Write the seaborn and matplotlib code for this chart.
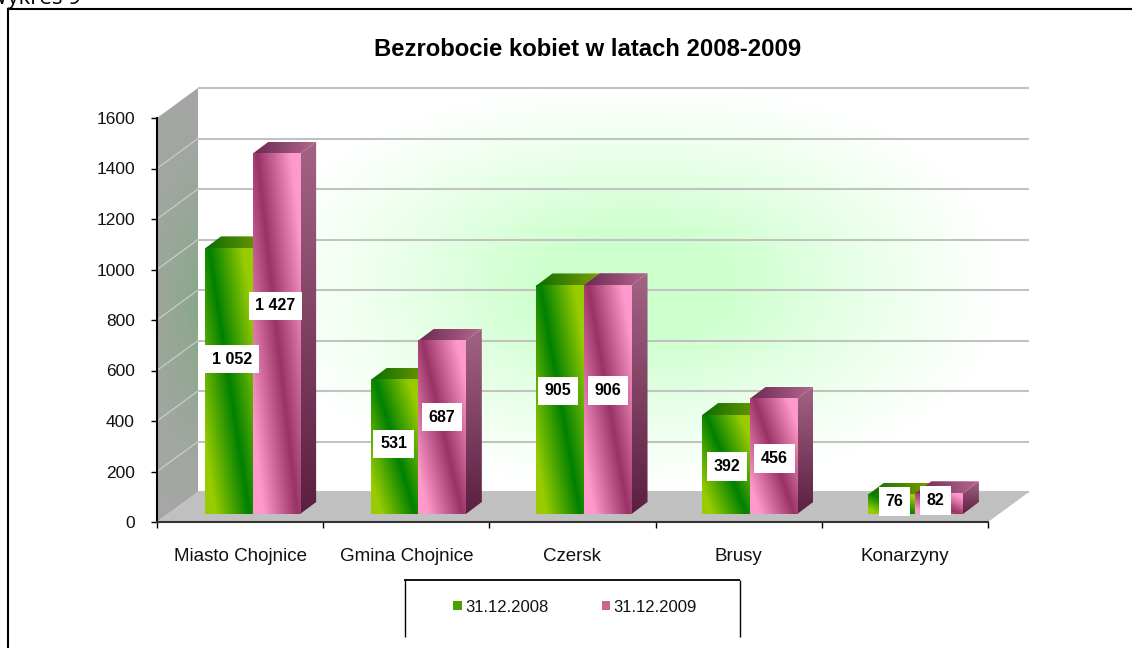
import numpy as np
import pandas as pd
import matplotlib
matplotlib.use("Agg")
import matplotlib.pyplot as plt
from matplotlib.colors import to_rgb
from matplotlib.lines import Line2D
from matplotlib.patches import Polygon, Patch
import seaborn as sns

title = "Bezrobocie kobiet w latach 2008-2009"
categories = ["Miasto Chojnice", "Gmina Chojnice", "Czersk", "Brusy", "Konarzyny"]
series_names = ["31.12.2008", "31.12.2009"]
values_2008 = [1052, 531, 905, 392, 76]
values_2009 = [1427, 687, 906, 456, 82]
y_ticks = [0, 200, 400, 600, 800, 1000, 1200, 1400, 1600]

W, H = 1132, 648
L, R, T, B = 157, 988, 118, 522
sns.set_theme(style="white")
plt.rcParams["font.family"] = ["Liberation Sans", "DejaVu Sans"]
fig = plt.figure(figsize=(W / 100, H / 100), dpi=100, facecolor="white")
ax = fig.add_axes([L / W, 1 - B / H, (R - L) / W, (B - T) / H])
ax.patch.set_alpha(0)

PX = 5.0 / (R - L)       # data x per pixel
PY = 1600.0 / (B - T)    # data y per pixel


def fx(x):
    return x / W


def fy(y):
    return 1 - y / H


df = pd.DataFrame({
    "kat": categories * 2,
    "war": values_2008 + values_2009,
    "data": [series_names[0]] * 5 + [series_names[1]] * 5,
})
GREEN = ("#008000", "#99CC00")
PINK = ("#993366", "#FF99CC")
sns.barplot(data=df, x="kat", y="war", hue="data", order=categories, hue_order=series_names,
            palette=["#4c9f00", "#c9658f"], width=0.572, gap=0, dodge=True, legend=False,
            errorbar=None, saturation=1, ax=ax)

# 3D box: back wall, left wall, floor
wx, wy = 41 * PX, 30 * PY
nx, ny = 500, 300
xx, yy = np.meshgrid(np.linspace(198, 1030, nx), np.linspace(87, 492, ny))
r = ((np.abs(xx - 635) / 375) ** 2.2 + (np.abs(yy - 285) / 205) ** 2.2) ** (1 / 2.2)
f = np.clip(1.35 * np.clip(1 - r, 0, 1) ** 1.15, 0, 1)
glow = np.array(to_rgb("#CCFFCC"))
img = 1 - (1 - glow)[None, None, :] * f[..., None]
ax.imshow(img, extent=[-0.5 + wx, 4.5 + wx, wy, 1600 + wy], aspect="auto", origin="upper",
          zorder=0.3, clip_on=False, interpolation="bilinear")

# left wall
yy2 = np.linspace(0, 1, 200)[:, None]
xx2 = np.linspace(0, 1, 40)[None, :]
g = np.exp(-((yy2 - 0.5) / 0.28) ** 2) * (0.35 + 0.65 * xx2)
c0 = np.array(to_rgb("#A6A6A6"))
c1 = np.array(to_rgb("#8AA88A"))
wall_img = c0[None, None, :] * (1 - g[..., None]) + c1[None, None, :] * g[..., None]
wall = Polygon([(-0.5, 0), (-0.5 + wx, wy), (-0.5 + wx, 1600 + wy), (-0.5, 1600)],
               transform=ax.transData, facecolor="none", edgecolor="none")
ax.add_patch(wall)
wim = ax.imshow(wall_img, extent=[-0.5, -0.5 + wx, 0, 1600 + wy], aspect="auto", origin="upper",
                zorder=0.4, interpolation="bilinear")
wim.set_clip_box(fig.bbox)
wim.set_clip_path(wall)

ax.add_patch(Polygon([(-0.5, 0), (-0.5 + wx, wy), (4.5 + wx, wy), (4.5, 0)], closed=True,
                     facecolor="#C0C0C0", edgecolor="none", zorder=0.5, clip_on=False))
for v in y_ticks:
    ax.plot([-0.5 + wx, 4.5 + wx], [v + wy, v + wy], color="#C2C2C2", lw=1.5, zorder=0.6,
            clip_on=False, solid_capstyle="butt")
    if 0 < v < 1600:
        ax.plot([-0.5, -0.5 + wx], [v, v + wy], color="#CFCFCF", lw=0.8, zorder=0.6, clip_on=False)


def ramp(t, pair):
    a, b = np.array(to_rgb(pair[0])), np.array(to_rgb(pair[1]))
    return a + (b - a) * t[..., None]


def clipped_image(verts, rgb, z):
    arr = np.array(verts)
    poly = Polygon(verts, transform=ax.transData, facecolor="none", edgecolor="none")
    ax.add_patch(poly)
    im = ax.imshow(rgb, extent=[arr[:, 0].min(), arr[:, 0].max(), arr[:, 1].min(), arr[:, 1].max()],
                   aspect="auto", origin="upper", zorder=z, interpolation="bilinear")
    im.set_clip_box(fig.bbox)
    im.set_clip_path(poly)


base = 8 * PY
dep_x, dep_y = 16 * PX, 12 * PY
top_cols = [("#0A6E00", "#7E9C00"), ("#6A2A50", "#B5678F")]
side_cols = [("#4E8A00", "#2E6000"), ("#A36385", "#5C1F40")]
pairs = [GREEN, PINK]
bars = [p for p in ax.patches
        if isinstance(p, matplotlib.patches.Rectangle) and p.get_height() > 0 and p.get_width() < 1]
n = len(categories)
for i, p in enumerate(bars[:2 * n]):
    s = 0 if i < n else 1
    cat = i % n
    z = 2 + cat + 0.1 * s
    p.set_x(p.get_x() + (12.5 - 0.5 * cat) * PX)
    p.set_y(base)
    p.set_zorder(z)
    p.set_edgecolor("none")
    x0, x1 = p.get_x(), p.get_x() + p.get_width()
    y1 = base + p.get_height()
    uu, tt = np.meshgrid(np.linspace(0, 1, 48), np.linspace(0, 1, 120))
    d = uu - (0.08 + 0.85 * tt)
    grad = np.clip(np.abs(d) / 0.72, 0, 1)
    ax.imshow(ramp(grad, pairs[s]), extent=[x0, x1, base, y1], aspect="auto", origin="upper",
              zorder=z + 0.01, interpolation="bilinear")
    # side face
    side = [(x1, base), (x1 + dep_x, base + dep_y), (x1 + dep_x, y1 + dep_y), (x1, y1)]
    tv = np.linspace(0, 1, 100)[:, None] * np.ones((100, 10))
    clipped_image(side, ramp(tv, side_cols[s]), z + 0.005)
    # top face
    top = [(x0, y1), (x0 + dep_x, y1 + dep_y), (x1 + dep_x, y1 + dep_y), (x1, y1)]
    th = np.ones((10, 1)) * np.linspace(0, 1, 60)[None, :]
    clipped_image(top, ramp(th, top_cols[s]), z + 0.005)

# data labels: pixel nudges from each bar centre (x) and from its mid height (y)
label_dx = [[3, -1, -2, 1, 3], [-1, 0, 0, 1, -4]]
label_dy = [[22, 3, 9, -2, 3], [28, 10, 9, -2, 3]]
for i, p in enumerate(bars[:2 * n]):
    s = 0 if i < n else 1
    cat = i % n
    v = int(round(p.get_height()))
    txt = f"{v:,}".replace(",", " ")
    xc = p.get_x() + p.get_width() / 2 + label_dx[s][cat] * PX
    yc = base + v / 2 + label_dy[s][cat] * PY
    ax.text(xc, yc, txt, ha="center", va="center", fontsize=11.5, fontweight="bold", color="black",
            zorder=20, bbox=dict(facecolor="white", edgecolor="none", boxstyle="square,pad=0.42"))

ax.set_xlim(-0.5, 4.5)
ax.set_ylim(0, 1600)
ax.set_xlabel("")
ax.set_ylabel("")
ax.set_xticks(range(5))
ax.set_xticklabels(categories)
ax.set_xticks(np.arange(-0.5, 5, 1), minor=True)
ax.set_yticks(y_ticks)
ax.tick_params(axis="x", which="major", length=0, pad=19, labelsize=13.5, colors="#111111")
ax.tick_params(axis="x", which="minor", length=4, width=1, color="black", bottom=True)
ax.tick_params(axis="y", which="major", length=4, width=1, left=True, color="black", pad=12,
               labelsize=12.5, labelcolor="#111111")
for sp in ["top", "right"]:
    ax.spines[sp].set_visible(False)
ax.spines["left"].set_color("black")
ax.spines["left"].set_linewidth(1.5)
ax.spines["bottom"].set_color("#333333")
ax.spines["bottom"].set_linewidth(1.5)
ax.spines["left"].set_zorder(30)
ax.spines["bottom"].set_zorder(30)

fig.text(fx(588), fy(50), title, ha="center", va="center", fontsize=17.2, fontweight="bold", color="black")
fig.text(fx(81), fy(4), "Wykres 9", ha="right", va="baseline", fontsize=16, color="black",
         family=["Open Sans", "DejaVu Sans"])


# frames
def fline(xs, ys, lw=1.5):
    fig.add_artist(Line2D([fx(x) for x in xs], [fy(y) for y in ys], color="black", lw=lw,
                          solid_capstyle="butt"))


fline([8, 8], [9, 648])
fline([7, 1132], [9, 9])
fline([404, 740], [580, 580], 1.3)
fline([404.5, 404.5], [580, 637], 1)
fline([739.5, 739.5], [580, 637], 1)

handles = [Patch(facecolor="#4c9f00", edgecolor="none"), Patch(facecolor="#c9658f", edgecolor="none")]
fig.legend(handles, series_names, ncols=2, frameon=False, loc="center",
           bbox_to_anchor=(fx(575), fy(607)), fontsize=12, handlelength=0.5, handleheight=0.5,
           handletextpad=0.2, columnspacing=3.2, labelcolor="#111111")

fig.savefig("out.png", dpi=100, facecolor="white")
